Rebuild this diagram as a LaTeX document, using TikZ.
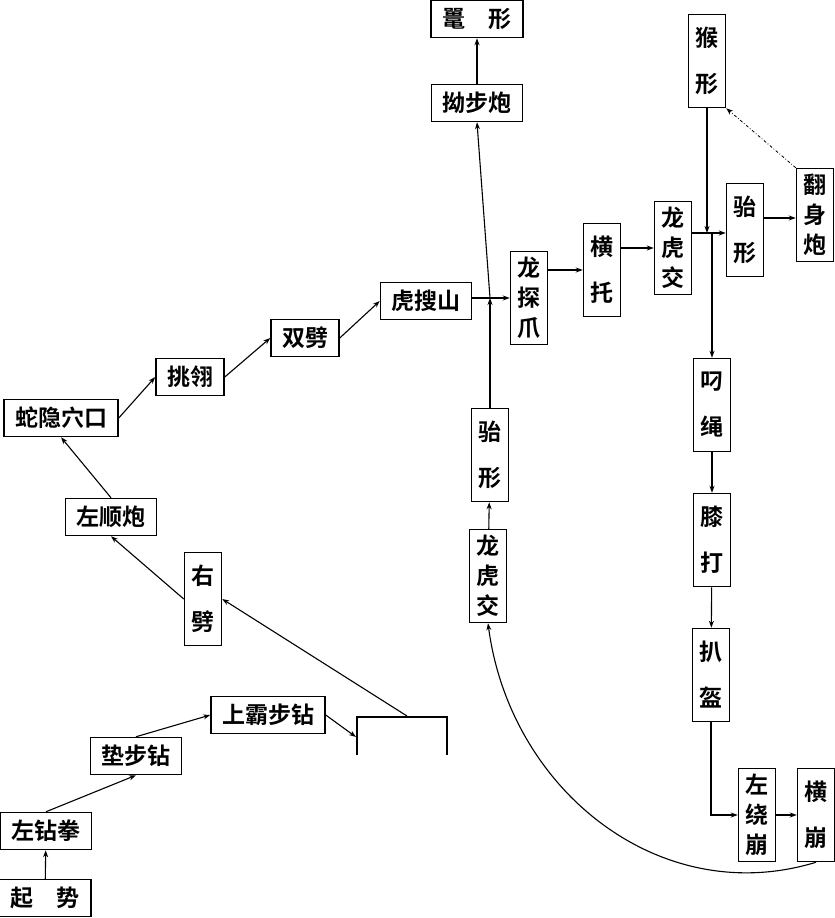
\documentclass[tikz,border=0pt]{standalone}
\usepackage{fontspec}
\newfontfamily\cjk{Noto Sans CJK SC}[BoldFont={Noto Sans CJK SC Bold}]
\usetikzlibrary{arrows.meta}

\tikzset{every path/.style={line width=1.1pt},
  hbox/.style={draw, line width=1.5pt, font=\cjk\bfseries\fontsize{23}{30}\selectfont,
    minimum height=37pt, inner xsep=11pt, inner ysep=0pt},
  vbox/.style={draw, line width=1.5pt, font=\cjk\bfseries\fontsize{23}{30}\selectfont,
    minimum width=37pt, minimum height=93pt, inner sep=0pt, align=center},
  link/.style={-{Stealth[length=7pt,width=5pt]}}}

\begin{document}
\begin{tikzpicture}[x=1pt,y=-1pt]
\useasboundingbox (0,0) rectangle (835,918);

\node[hbox, minimum width=88pt] (qishi) at (45,898) {起\hspace{24pt}势};
\node[hbox] (zuanquan) at (46,831) {左钻拳};
\node[hbox] (dianbu) at (136,756) {垫步钻};
\node[hbox] (shangba) at (268,715) {上霸步钻};
\node[vbox] (youpi) at (203,599) {右\\[16pt]劈};
\node[hbox] (zuoshun) at (111,517) {左顺炮};
\node[hbox] (sheyin) at (61,418) {蛇隐穴口};
\node[hbox] (tiaoling) at (190,377) {挑翎};
\node[hbox] (shuangpi) at (305,338) {双劈};
\node[hbox] (husou) at (426,301) {虎搜山};
\node[vbox] (longtan) at (529,298) {龙\\探\\爪};
\node[vbox] (hengtuo) at (602,270) {横\\[16pt]托};
\node[vbox] (longhuA) at (673,248) {龙\\虎\\交};
\node[vbox] (houxing) at (707,61) {猴\\[16pt]形};
\node[vbox] (taixingA) at (745,230) {骀\\[16pt]形};
\node[vbox] (fanshen) at (815,215) {翻\\身\\炮};
\node[vbox] (diaosheng) at (712,405) {叼\\[16pt]绳};
\node[vbox] (xida) at (712,540) {膝\\[16pt]打};
\node[vbox] (bakui) at (711,675) {扒\\[16pt]盔};
\node[vbox] (zuorao) at (757,815) {左\\绕\\崩};
\node[vbox] (hengbeng) at (816,815) {横\\[16pt]崩};
\node[vbox] (taixingB) at (490,455) {骀\\[16pt]形};
\node[vbox] (longhuB) at (488,576) {龙\\虎\\交};
\node[hbox] (aobu) at (477,103) {拗步炮};
\node[hbox, minimum width=89pt] (tuoxing) at (477,19) {鼍\hspace{24pt}形};

\draw[line width=1.5pt] (357,755) -- (357,717) -- (447,717) -- (447,755);
\coordinate (kongL) at (356,737);
\coordinate (kongT) at (407,716);
\coordinate (J) at (490,298);
\coordinate (K) at (712,233);

\draw[link] (qishi) -- (zuanquan);
\draw[link] (zuanquan.north) -- (dianbu.south);
\draw[link] (dianbu.north) -- (shangba.west);
\draw[link] (shangba.east) -- (kongL);
\draw[link] (kongT) -- (youpi.east);
\draw[link] (youpi.west) -- (zuoshun.south);
\draw[link] (zuoshun.north) -- (sheyin.south);
\draw[link] (sheyin.east) -- (tiaoling.west);
\draw[link] (tiaoling.east) -- (shuangpi.west);
\draw[link] (shuangpi.east) -- (husou.west);
\draw[link] (husou.east |- J) -- (longtan.west |- J);
\draw[link] (taixingB) -- (J);
\draw[link] (J) -- (aobu.south);
\draw[link] (aobu) -- (tuoxing);
\draw[link] (longhuB) -- (taixingB);
\draw[link] (hengbeng.south) .. controls (660,910) and (510,790) .. (longhuB.south);
\draw[link] (longtan.east |- hengtuo.west) -- (hengtuo.west);
\draw[link] (hengtuo.east |- longhuA.west) -- (longhuA.west);
\draw (longhuA.east |- K) -- (K);
\draw[link] (K) -- (taixingA.west |- K);
\draw[link] (houxing.south) -- (houxing.south |- K);
\draw[link] (K) -- (diaosheng.north);
\draw[link] (taixingA.east |- 0,218) -- (fanshen.west |- 0,218);
\draw[link, line width=0.8pt, dash dot] (fanshen.north west) -- (houxing.south east);
\draw[link] (diaosheng) -- (xida);
\draw[link] (xida) -- (bakui);
\draw[link] (bakui.south) -- (bakui.south |- zuorao.west) -- (zuorao.west);
\draw[link] (zuorao) -- (hengbeng);
\end{tikzpicture}
\end{document}
